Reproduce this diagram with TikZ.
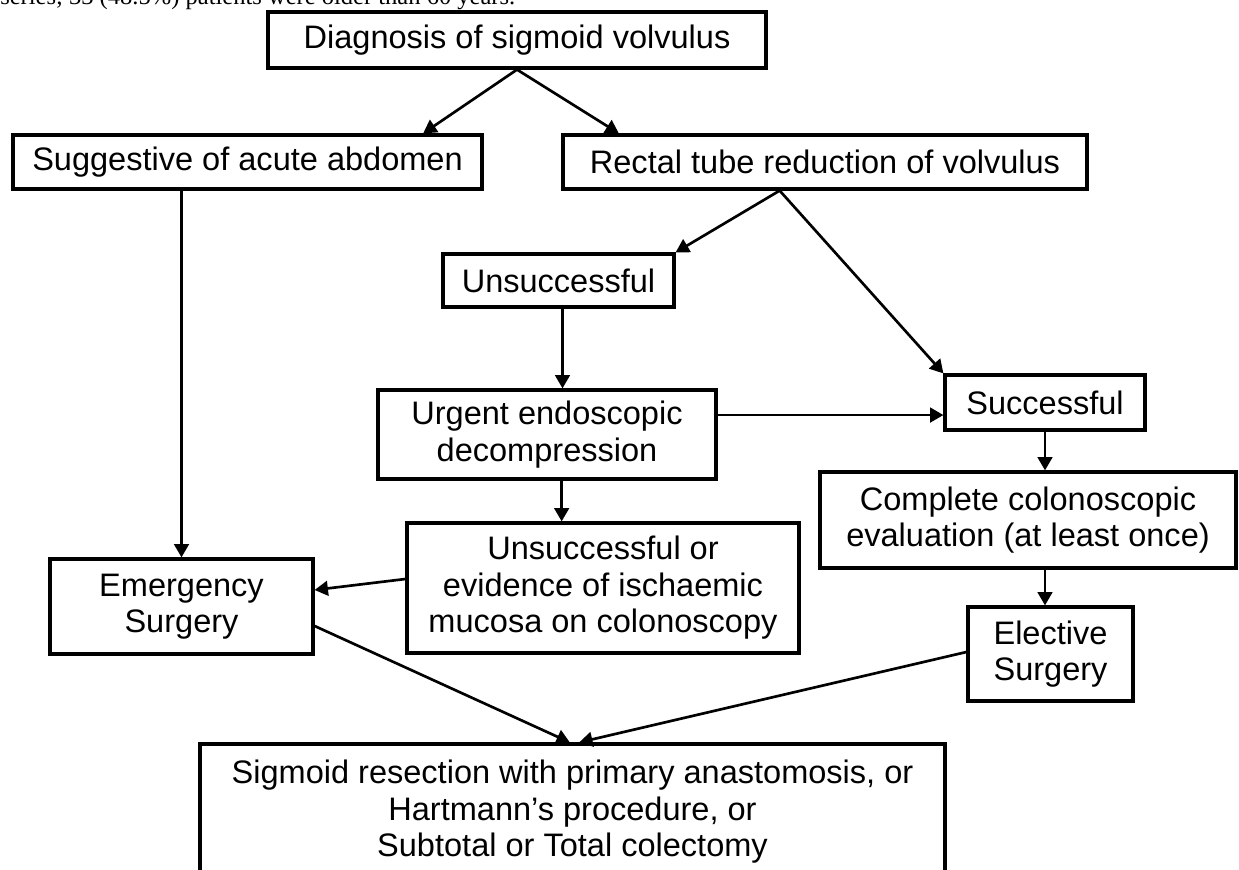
\documentclass[tikz,border=0pt]{standalone}
\usepackage{fontspec}
\setmainfont{Liberation Sans}
\newfontfamily\serifpara{Liberation Serif}
\usetikzlibrary{arrows.meta,calc}
\tikzset{
  box/.style={draw=black, line width=2.4pt, inner sep=0pt, align=center,
    font=\fontsize{24.4}{27.4}\selectfont},
  conn/.style={line width=2pt, -{Triangle[length=10pt,width=11pt]}},
}
\begin{document}
\begin{tikzpicture}[x=0.75pt,y=-0.75pt]
\useasboundingbox (0,0) rectangle (1239,869);
\node[anchor=base west, inner sep=0pt, font=\serifpara\fontsize{18.4}{20}\selectfont] (cap) at (0,4.5) {series; 33 (48.5\%) patients were older than 60 years.};

\node[box, minimum width=373.5pt, minimum height=42pt] (diag) at (517,40) {Diagnosis of sigmoid volvulus};
\node[box, minimum width=351.75pt, minimum height=40.5pt] (sugg) at (247.5,162) {Suggestive of acute abdomen};
\node[box, minimum width=393pt, minimum height=40.5pt] (rect) at (825,162) {Rectal tube reduction of volvulus};
\node[box, minimum width=173.25pt, minimum height=39.75pt] (unsucc) at (558.5,280.5) {Unsuccessful};
\node[box, minimum width=253.5pt, minimum height=66.75pt] (urgent) at (547,434.5) {Urgent endoscopic\\decompression};
\node[box, minimum width=150pt, minimum height=41.25pt] (succ) at (1045,402.5) {Successful};
\node[box, minimum width=312pt, minimum height=72pt] (complete) at (1028,520) {Complete colonoscopic\\evaluation (at least once)};
\node[box, minimum width=294pt, minimum height=97.5pt] (unsor) at (603,588) {Unsuccessful or\\evidence of ischaemic\\mucosa on colonoscopy};
\node[box, minimum width=197.25pt, minimum height=71.25pt] (emerg) at (181.5,606.5) {Emergency\\Surgery};
\node[box, minimum width=123.75pt, minimum height=70.5pt] (elect) at (1050.5,654) {Elective\\Surgery};
\node[box, minimum width=558.75pt, minimum height=102pt] (res) at (572.5,812) {Sigmoid resection with primary anastomosis, or\\Hartmann's procedure, or\\Subtotal or Total colectomy};

\draw[conn] (diag.south) -- ($(sugg.north west)!0.872!(sugg.north east)$);
\draw[conn] (diag.south) -- ($(rect.north west)!0.109!(rect.north east)$);
\draw[conn] ($(rect.south west)!0.414!(rect.south east)$) -- (unsucc.north east);
\draw[conn] ($(rect.south west)!0.414!(rect.south east)$) -- (succ.north west);
\draw[conn] (sugg.south -| emerg.north) -- (emerg.north);
\draw[conn] ([xshift=3pt]unsucc.south) -- ([xshift=3pt]unsucc.south |- urgent.north);
\draw[conn] ([xshift=11pt]urgent.south) -- ([xshift=11pt]urgent.south |- unsor.north);
\draw[conn] ([yshift=14.6pt]urgent.east) -- ([yshift=14.6pt]urgent.east -| succ.west);
\draw[conn] (succ.south) -- (succ.south |- complete.north);
\draw[conn] (complete.south -| succ.south) -- (elect.north -| succ.south);
\draw[conn] ([yshift=6.75pt]unsor.west) -- ([yshift=12.4pt]emerg.east);
\draw[conn] ([yshift=-14.6pt]emerg.east) -- ([xshift=-2pt]res.north);
\draw[conn] ([yshift=1.5pt]elect.west) -- ([xshift=5pt]res.north);
\end{tikzpicture}
\end{document}
